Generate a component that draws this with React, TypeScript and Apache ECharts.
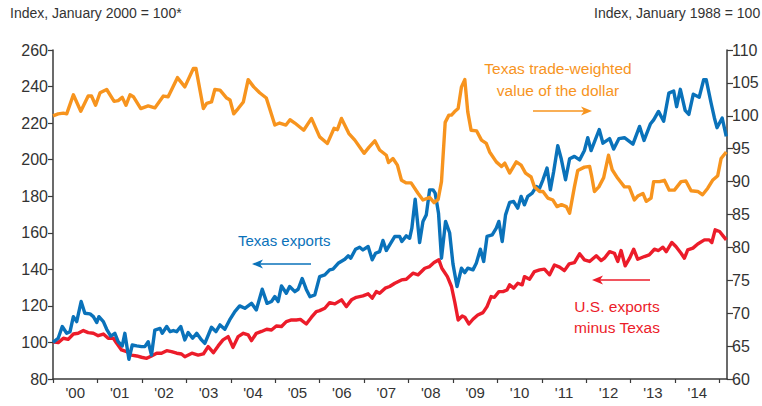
import React, { useEffect, useRef } from "react";
import * as echarts from "echarts";

// x = months since January 2000
const yearLabels = ["'00", "'01", "'02", "'03", "'04", "'05", "'06", "'07", "'08", "'09", "'10", "'11", "'12", "'13", "'14"];

const texasExports: [number, number][] = [
  [0, 100], [1.4, 102.3], [2.5, 108.7], [3.7, 105], [4.6, 105.9], [5.5, 114.1], [6.4, 111.4], [7.6, 122.4], [8.6, 116], [10, 115.6],
  [10.9, 114.1], [11.8, 110.9], [12.4, 114.1], [13.6, 111.4], [14.5, 107.2], [15.6, 103.5], [16.7, 105], [17.6, 100.4], [18.7, 98.1], [19.4, 105],
  [20.5, 90.8], [21.4, 98.6], [22.6, 98.1], [23.9, 97.7], [24.8, 97.7], [25.7, 100.4], [26.6, 93.1], [27.5, 106.8], [28.9, 107.7], [29.5, 105],
  [30.7, 108.7], [31.6, 105.9], [32.5, 106.5], [33.4, 105.9], [34.5, 108.7], [35.6, 101.4], [36.5, 105.4], [37.7, 102.3], [38.8, 105], [40.1, 101.4],
  [41, 99.5], [42.8, 108.3], [44, 105.9], [45.1, 109.6], [46.4, 107.2], [47.7, 112.3], [49.1, 116.9], [50.4, 120], [51.8, 118.7], [53.6, 121.4],
  [54.9, 117.8], [56.5, 129.1], [57.8, 121.4], [59, 122.4], [59.9, 125.1], [60.8, 122.4], [61.7, 130.9], [63, 126.9], [63.9, 130.6], [65.3, 127.8],
  [66.2, 129.1], [67.3, 135], [68.4, 129], [69.4, 125], [70.7, 126], [72, 136], [73.4, 137], [74.7, 139.7], [75.6, 140.1], [77, 143.3],
  [78.8, 145.5], [79.7, 147.4], [80.4, 146.1], [81.7, 151], [82.8, 152.1], [83.7, 150.6], [85.1, 152.5], [86.2, 145.2], [87.1, 148.8], [88.2, 149.7],
  [89.1, 155.8], [90, 150.3], [91.2, 154.3], [92.3, 158], [93.6, 158], [94.2, 155.2], [95.4, 158.3], [96.3, 157], [96.9, 162.5], [97.8, 178.4],
  [99, 154.7], [99.9, 166.2], [100.8, 169.8], [101.7, 183.5], [102.6, 183.5], [103.2, 181.7], [104.1, 170.7], [104.9, 146.1], [106, 166.2], [107.1, 160],
  [108, 143], [109.1, 130.6], [110.3, 140.6], [111.2, 138.2], [112, 140.6], [113.4, 139.7], [114.3, 143.3], [115.4, 151], [116.3, 144.3], [117.2, 158],
  [118.6, 158.9], [119.7, 162.5], [120.4, 166.2], [121.3, 155.2], [122.2, 169.8], [123.3, 176.6], [124.4, 177.1], [125.5, 173.5], [126.4, 179.9], [127.3, 175.3],
  [128.2, 179.9], [129.4, 181.7], [130.5, 185.3], [131.4, 184.4], [132.3, 189], [133.4, 195.4], [134.3, 183.5], [135.2, 193.5], [136.3, 207.6], [137.2, 200.8],
  [138.4, 189], [139.5, 200.5], [140.8, 201.8], [142.2, 199.9], [143.5, 205], [144.4, 212], [145.3, 205], [147.5, 216.5], [148.5, 209], [150.3, 211.5],
  [151.4, 205.8], [152.8, 211.5], [154.3, 212], [156.6, 208.5], [158.4, 218.2], [159.6, 210.5], [161.3, 219.5], [162.2, 221.8], [163.5, 226.4], [164.9, 221],
  [166.3, 236.4], [167.6, 237.6], [168.4, 229], [169.4, 238.5], [170.7, 227], [171.7, 224.8], [172.9, 235.8], [174.5, 234.2], [175.7, 243.7], [176.4, 243.7],
  [177.7, 231], [178.6, 222.8], [179.3, 217.5], [180.7, 222.8], [181.8, 212.7],
];

const usExportsMinusTexas: [number, number][] = [
  [0, 100.4], [1.4, 99.9], [2.8, 102.3], [4.1, 101.7], [5.5, 104.6], [6.8, 105], [8.2, 106.5], [9.5, 105.4], [10.9, 105], [12.2, 103.7],
  [13.6, 104.6], [14.9, 102.3], [16.3, 102.3], [17.2, 99.5], [18.5, 95.9], [19.9, 95], [21.2, 93.1], [22.6, 92.6], [23.9, 91.9], [25.3, 91.3],
  [26.6, 92.6], [28, 94.1], [29.3, 94.1], [30.7, 95.5], [32, 95], [33.4, 94.1], [34.7, 93.7], [35.6, 92.2], [37.5, 94.1], [39.2, 93.1],
  [40.6, 93.7], [41.9, 97.7], [43.3, 94.4], [44.6, 98.1], [45.9, 101.4], [47.3, 103.2], [48.6, 97.3], [50, 103.2], [51.4, 105], [52.7, 104.1],
  [53.6, 101], [54.9, 105], [56.3, 106], [57.7, 107.2], [59, 106.8], [60.3, 109], [61.7, 108.7], [63, 111.4], [64.4, 112.3], [65.7, 112.3],
  [66.8, 112.6], [68.4, 110.1], [69.8, 113.8], [71.1, 116.9], [72, 117.4], [73.4, 118.7], [74.7, 121.8], [76.1, 121.1], [77.9, 123.3], [79.2, 119.6],
  [80.6, 123.3], [81.9, 124.7], [83.7, 125.5], [85.1, 126.6], [86.2, 124.2], [87.3, 127.8], [88.2, 126.9], [89.7, 129.7], [90.9, 130.6], [92.3, 132.4],
  [94.1, 134.2], [95.4, 134.6], [97.2, 137.9], [98.6, 137], [100.4, 140.6], [101.7, 141.5], [102.9, 143.7], [104.2, 145.2], [105, 140.6], [106.5, 136],
  [107.6, 130.6], [108.5, 122], [109.4, 112.3], [110.5, 114.5], [111.2, 113.8], [112.3, 110.1], [113.4, 112.7], [114.7, 115], [116.1, 116.3], [117.2, 119.6],
  [118.3, 125.1], [119.2, 124.7], [120.4, 127.8], [121.5, 127.8], [122.6, 128.7], [123.3, 131.5], [124.4, 129.7], [125.5, 132.4], [126.7, 131.5], [127.3, 136],
  [128.7, 134.6], [130, 138.8], [131.4, 139.7], [132.7, 140.1], [134.1, 137], [135.4, 142.4], [136.8, 141.2], [138.1, 139.3], [139.4, 143], [140.8, 143.7],
  [142.2, 148.5], [143.5, 145.2], [144.9, 144.3], [146.7, 147.4], [148, 144.8], [148.9, 146.1], [150.3, 149.7], [151.6, 148.8], [152.5, 144.3], [153.4, 150.3],
  [154.5, 141.9], [155.7, 146.1], [156.8, 151], [157.9, 145.5], [159.7, 147], [161, 147.9], [162.4, 151], [163.5, 150.3], [164.7, 152.1], [165.6, 149.7],
  [167.1, 154.7], [168.2, 152.5], [169.6, 148.8], [170.5, 146.1], [171.4, 150.6], [172.8, 151.6], [174.1, 153.9], [175.9, 156.1], [177.2, 156.1], [177.9, 154.7],
  [178.8, 161.6], [180, 160.7], [181.1, 157.9], [181.8, 156.1],
];

const tradeWeightedDollar: [number, number][] = [
  [0, 100], [1.4, 100.3], [2.8, 100.4], [3.7, 100.3], [5.5, 103.2], [7.5, 100.7], [9.5, 103], [10.4, 103], [11.5, 101.6], [12.7, 103.5],
  [14.5, 104], [16.5, 102.2], [17.6, 102.3], [18.7, 102.8], [19.7, 101.6], [20.8, 103.2], [21.7, 102.9], [23.7, 101.1], [25.7, 101.5], [27.5, 101.2],
  [29.8, 103], [31.1, 102.9], [33.6, 105.8], [35.6, 104.4], [37.9, 107.2], [38.6, 107.2], [40.6, 101.1], [41.5, 101.9], [42.8, 102.1], [43.7, 104],
  [45.1, 103.9], [46.9, 102.7], [47.8, 102.4], [48.8, 100.3], [50, 101.1], [51.4, 102.1], [52.7, 105.5], [54.2, 104.4], [55.8, 103.5], [57.6, 102.7],
  [59.9, 98.6], [61.2, 98.9], [62.9, 98.6], [64, 99.4], [65.3, 98.9], [67.7, 97.8], [69.8, 99.6], [72, 96.8], [74.1, 95.8], [75.9, 98.1],
  [76.8, 97.9], [77.9, 99.6], [79.9, 97.3], [81.5, 96.3], [84, 94.3], [85.3, 95.2], [86.9, 96.2], [88.2, 94.8], [90, 94], [90.6, 92.9],
  [91.8, 93.5], [93, 92.5], [94.1, 90.2], [95.4, 89.8], [96.7, 89.8], [98.6, 88.2], [99.9, 87.2], [101.7, 87.6], [102.9, 86.8], [104, 87.3],
  [104.9, 90], [105.9, 99], [106.9, 100.1], [107.6, 100.1], [108.4, 100.6], [109.4, 101.1], [110.3, 104.4], [111.2, 105.5], [112, 100.6], [112.9, 97.8],
  [114.4, 97.7], [115.7, 96.3], [117, 95.8], [117.9, 94.5], [119.7, 93], [121.1, 92.3], [122, 92.8], [123.3, 91.3], [125.1, 93], [126.4, 92.5],
  [127.6, 91.3], [129.1, 90.7], [130, 89.2], [131.4, 88.5], [132.3, 88.5], [133.6, 87.5], [135, 87.2], [136.1, 86.2], [137.3, 86.5], [138.6, 86.2],
  [139.5, 85.2], [140.8, 89.2], [141.7, 91.7], [143.5, 92.2], [144.9, 92.3], [145.4, 91], [146.2, 88.5], [147.4, 89.2], [148.7, 90.6], [150, 94],
  [151, 91.8], [152.5, 90.5], [154.3, 89.2], [155.6, 89.2], [157, 87.2], [157.9, 87.8], [159.3, 88.2], [160.2, 87], [161.5, 87.5], [162.2, 90],
  [163.8, 90], [165.1, 90.2], [166.4, 88.7], [167.8, 88.7], [169.6, 90], [170.9, 90.1], [172.3, 88.6], [174.1, 88.5], [175.4, 88], [176.8, 89],
  [178.1, 90.2], [179.5, 90.9], [180.4, 93.5], [181.8, 94.5],
];

const BLUE = "#0a72ba";
const RED = "#ec1c2a";
const ORANGE = "#f7941e";
const INK = "#333333";
const AXIS = "#3a3a3a";
const FONT = '"Liberation Sans", Arial, Helvetica, sans-serif';

function arrow(tipX: number, y: number, tailX: number, color: string) {
  const dir = tailX > tipX ? 1 : -1;
  return [
    {
      type: "line",
      shape: { x1: tipX + dir * 6, y1: y, x2: tailX, y2: y },
      style: { stroke: color, lineWidth: 1.6 },
    },
    {
      type: "polygon",
      shape: {
        points: [
          [tipX, y],
          [tipX + dir * 11, y - 4.5],
          [tipX + dir * 8, y],
          [tipX + dir * 11, y + 4.5],
        ],
      },
      style: { fill: color },
    },
  ];
}

export default function App() {
  const ref = useRef<HTMLDivElement>(null);

  useEffect(() => {
    if (!ref.current) return;
    const chart = echarts.init(ref.current, undefined, { renderer: "svg" });
    const yearTicks = yearLabels.map((_, i) => i * 12).concat([180]);
    const yearMids = yearLabels.map((_, i) => i * 12 + 6);

    const option: any = {
      animation: false,
      backgroundColor: "#ffffff",
      textStyle: { fontFamily: FONT },
      grid: { left: 53, right: 35, top: 50, bottom: 27, containLabel: false },
      xAxis: {
        type: "value",
        min: 0,
        max: 182,
        interval: 12,
        axisLine: { show: true, onZero: false, lineStyle: { color: AXIS, width: 1.5 } },
        axisTick: { show: true, length: 4, customValues: yearTicks, lineStyle: { color: AXIS, width: 1.2 } },
        axisLabel: {
          show: true,
          customValues: yearMids,
          margin: 6,
          fontSize: 15,
          color: INK,
          fontFamily: FONT,
          formatter: (v: number) => yearLabels[Math.round((v - 6) / 12)] ?? "",
        },
        splitLine: { show: false },
      },
      yAxis: [
        {
          type: "value",
          position: "left",
          min: 80,
          max: 260,
          interval: 20,
          axisLine: { show: true, lineStyle: { color: AXIS, width: 1.5 } },
          axisTick: { show: true, length: 5, lineStyle: { color: AXIS, width: 1.2 } },
          axisLabel: { margin: 5, fontSize: 16, color: INK, fontFamily: FONT },
          splitLine: { show: false },
        },
        {
          type: "value",
          position: "right",
          min: 60,
          max: 110,
          interval: 5,
          axisLine: { show: true, lineStyle: { color: AXIS, width: 1.5 } },
          axisTick: { show: true, length: 6, lineStyle: { color: AXIS, width: 1.2 } },
          axisLabel: { margin: 5, fontSize: 16, color: INK, fontFamily: FONT },
          splitLine: { show: false },
        },
      ],
      series: [
        {
          name: "U.S. exports minus Texas",
          type: "line",
          yAxisIndex: 0,
          data: usExportsMinusTexas,
          showSymbol: false,
          lineStyle: { color: RED, width: 3.4, join: "round" },
          itemStyle: { color: RED },
        },
        {
          name: "Texas exports",
          type: "line",
          yAxisIndex: 0,
          data: texasExports,
          showSymbol: false,
          lineStyle: { color: BLUE, width: 3.4, join: "round" },
          itemStyle: { color: BLUE },
        },
        {
          name: "Texas trade-weighted value of the dollar",
          type: "line",
          yAxisIndex: 1,
          data: tradeWeightedDollar,
          showSymbol: false,
          lineStyle: { color: ORANGE, width: 3.4, join: "round" },
          itemStyle: { color: ORANGE },
        },
      ],
      graphic: [
        {
          type: "text",
          left: 10,
          top: 6,
          style: { text: "Index, January 2000 = 100*", fontSize: 14, fill: INK, fontFamily: FONT },
        },
        {
          type: "text",
          x: 594,
          y: 6,
          style: { text: "Index, January 1988 = 100", fontSize: 14, fill: INK, fontFamily: FONT },
        },
        {
          type: "text",
          x: 238,
          y: 240,
          style: { text: "Texas exports", fontSize: 15, fill: BLUE, fontFamily: FONT, verticalAlign: "middle", align: "left" },
        },
        ...arrow(252, 264, 311, BLUE),
        {
          type: "text",
          x: 558,
          y: 68,
          style: { text: "Texas trade-weighted", fontSize: 15.5, fill: ORANGE, fontFamily: FONT, verticalAlign: "middle", align: "center" },
        },
        {
          type: "text",
          x: 558,
          y: 90,
          style: { text: "value of the dollar", fontSize: 15.5, fill: ORANGE, fontFamily: FONT, verticalAlign: "middle", align: "center" },
        },
        ...arrow(592, 111, 533, ORANGE),
        {
          type: "text",
          x: 617,
          y: 306,
          style: { text: "U.S. exports", fontSize: 15.5, fill: RED, fontFamily: FONT, verticalAlign: "middle", align: "center" },
        },
        {
          type: "text",
          x: 617,
          y: 327,
          style: { text: "minus Texas", fontSize: 15.5, fill: RED, fontFamily: FONT, verticalAlign: "middle", align: "center" },
        },
        ...arrow(592, 280, 650, RED),
      ],
    };

    chart.setOption(option);
    return () => chart.dispose();
  }, []);

  return (
    <div
      ref={ref}
      style={{ position: "fixed", left: 0, top: 0, width: 762, height: 406, background: "#fff" }}
    />
  );
}
